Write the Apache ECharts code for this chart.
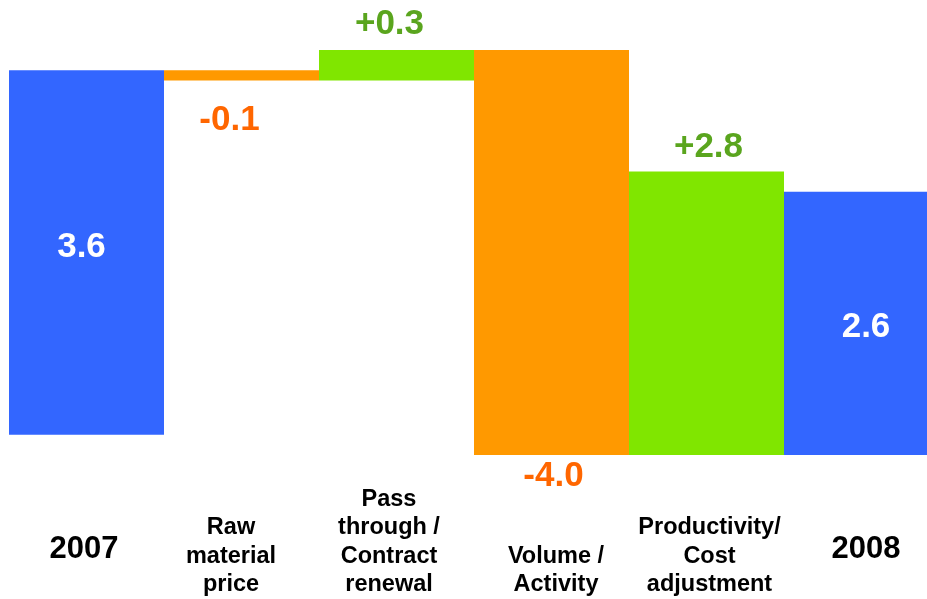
<!DOCTYPE html>
<html>
<head>
<meta charset="utf-8">
<script src="https://cdn.jsdelivr.net/npm/echarts@6/dist/echarts.min.js"></script>
<style>
html,body{margin:0;padding:0;background:#fff;}
#chart{width:927px;height:599px;}
</style>
</head>
<body>
<div id="chart"></div>
<script>
// Data
const categories = ['2007', 'Raw\nmaterial\nprice', 'Pass\nthrough /\nContract\nrenewal', 'Volume /\nActivity', 'Productivity/\nCost\nadjustment', '2008'];
const barLow = [0, 3.5, 3.5, -0.2, -0.2, -0.2];
const barHigh = [3.6, 3.6, 3.8, 3.8, 2.6, 2.4];
const valueLabels = ['3.6', '-0.1', '+0.3', '-4.0', '+2.8', '2.6'];
const kinds = ['total', 'decrease', 'increase', 'decrease', 'increase', 'total'];

// Styles
const FONT = "'Liberation Sans', Arial, sans-serif";
const barColors = { total: '#3366FF', decrease: '#FF9900', increase: '#80E600' };
const labelColors = { total: '#FFFFFF', decrease: '#FF6600', increase: '#5AA51E' };
const labelLayout = [
  { position: 'inside', offset: [-5, -5.5] },
  { position: 'bottom', distance: 22.5, offset: [-12, 0] },
  { position: 'top', distance: 8, offset: [-7, 0] },
  { position: 'bottom', distance: 4, offset: [2, 0] },
  { position: 'top', distance: 6.5, offset: [2, 0] },
  { position: 'inside', offset: [4.5, 4] }
];
// horizontal shift of category labels
const catShift = [-2.5, -10.5, -7.5, 4.5, 3, 4.5];
const LINE_H = 28.5;
const MAX_LINES = 4;

const catData = categories.map((c, i) => {
  const s = catShift[i];
  const isYear = kinds[i] === 'total';
  const nLines = c.split('\n').length;
  const padTop = isYear ? 46.25 : (MAX_LINES - nLines) * LINE_H;
  return {
    value: c,
    textStyle: {
      fontSize: isYear ? 31 : 23.5,
      lineHeight: isYear ? 37 : LINE_H,
      padding: [padTop, s < 0 ? -2 * s : 0, 0, s > 0 ? 2 * s : 0]
    }
  };
});

const spanData = barHigh.map((h, i) => ({
  value: Math.round((h - barLow[i]) * 100) / 100,
  itemStyle: { color: barColors[kinds[i]] },
  label: Object.assign({
    show: true,
    color: labelColors[kinds[i]],
    fontSize: 35,
    lineHeight: 35,
    fontWeight: 'bold',
    fontFamily: FONT,
    formatter: () => valueLabels[i]
  }, labelLayout[i])
}));

const chart = echarts.init(document.getElementById('chart'), null, { renderer: 'canvas' });
chart.setOption({
  animation: false,
  backgroundColor: '#ffffff',
  grid: { left: 9, top: 50, width: 930, height: 405, outerBoundsMode: 'none', containLabel: false },
  xAxis: {
    type: 'category',
    data: catData,
    axisLine: { show: false, onZero: false },
    axisTick: { show: false },
    splitLine: { show: false },
    axisLabel: {
      interval: 0,
      margin: 30,
      align: 'center',
      color: '#000000',
      fontWeight: 'bold',
      fontFamily: FONT,
      fontSize: 23.5,
      lineHeight: LINE_H
    }
  },
  yAxis: { type: 'value', min: -0.2, max: 3.8, show: false, splitLine: { show: false } },
  series: [
    { name: 'base', type: 'bar', stack: 'w', stackStrategy: 'all', barCategoryGap: 0, silent: true,
      itemStyle: { color: 'rgba(0,0,0,0)' }, data: barLow },
    { name: 'change', type: 'bar', stack: 'w', stackStrategy: 'all', barCategoryGap: 0, data: spanData }
  ]
});
</script>
</body>
</html>
